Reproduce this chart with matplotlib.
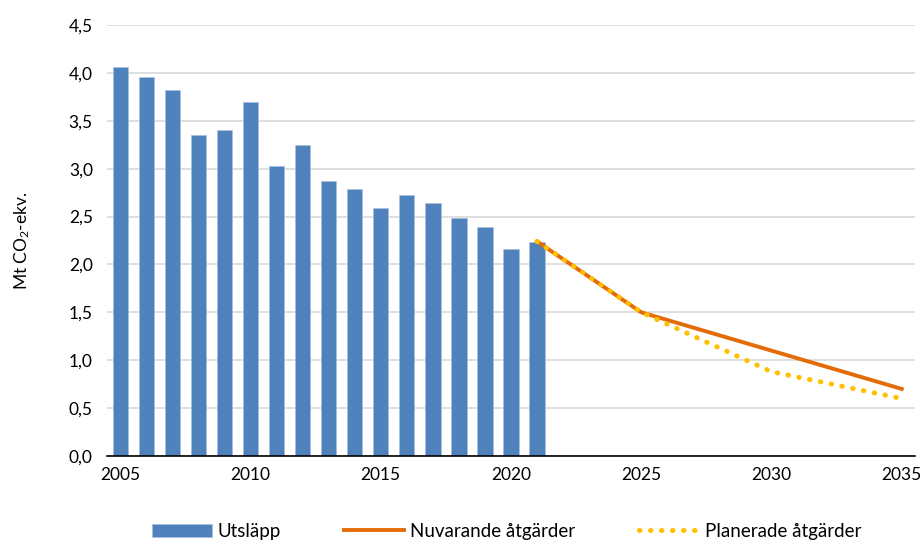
import matplotlib.pyplot as plt
from matplotlib.ticker import FuncFormatter

plt.rcParams['font.family'] = ['Lato', 'DejaVu Sans']
plt.rcParams['mathtext.fontset'] = 'custom'
plt.rcParams['mathtext.rm'] = 'Lato'
plt.rcParams['mathtext.it'] = 'Lato'

# historic emissions
years = list(range(2005, 2022))
utslapp = [4.06, 3.96, 3.82, 3.35, 3.40, 3.70, 3.03, 3.25, 2.87, 2.79,
           2.59, 2.73, 2.64, 2.48, 2.39, 2.16, 2.23]

# scenarios
scen_years = [2021, 2025, 2030, 2035]
nuvarande = [2.24, 1.50, 1.10, 0.70]
planerade = [2.24, 1.50, 0.88, 0.60]

xticks = [2005, 2010, 2015, 2020, 2025, 2030, 2035]
yticks = [0, 0.5, 1.0, 1.5, 2.0, 2.5, 3.0, 3.5, 4.0, 4.5]

fig = plt.figure(figsize=(9.24, 5.42), dpi=100)
ax = fig.add_axes([0.1155, 0.1587, 0.8745, 0.7952])

bars = ax.bar(years, utslapp, width=0.59, color='#4F81BD', edgecolor='#A9C0E0',
              linewidth=0.5, label='Utsläpp', zorder=2)
l1, = ax.plot(scen_years, nuvarande, color='#E36C09', linewidth=2.8,
              label='Nuvarande åtgärder', zorder=3)
l2, = ax.plot(scen_years, planerade, color='#FFC000', linewidth=3.6,
              linestyle=(0, (0.1, 2.1)), dash_capstyle='round',
              label='Planerade åtgärder', zorder=4)

ax.set_xlim(2004.48, 2035.5)
ax.set_ylim(0, 4.5)
ax.set_xticks(xticks)
ax.set_yticks(yticks)
ax.yaxis.set_major_formatter(FuncFormatter(lambda v, p: f'{v:.1f}'.replace('.', ',')))
ax.tick_params(axis='both', length=0, labelsize=12.5, colors='black')
ax.tick_params(axis='x', pad=8)
ax.tick_params(axis='y', pad=10)

ax.grid(axis='y', color='#D9D9D9', linewidth=1.2, zorder=0)
ax.set_axisbelow(True)
for s in ['top', 'right', 'left']:
    ax.spines[s].set_visible(False)
ax.spines['bottom'].set_color('black')
ax.spines['bottom'].set_linewidth(1.2)
ax.spines['bottom'].set_zorder(5)

ax.set_ylabel('Mt CO$_2$-ekv.', fontsize=12.5)
ax.yaxis.set_label_coords(-0.093, 0.5)

fig.legend([bars, l1, l2], ['Utsläpp', 'Nuvarande åtgärder', 'Planerade åtgärder'],
           loc='center', bbox_to_anchor=(0.548, 0.02), ncol=3,
           frameon=False, fontsize=13.5, columnspacing=3.4,
           handlelength=3.2, handletextpad=0.3)

fig.savefig('out.png', dpi=100)
